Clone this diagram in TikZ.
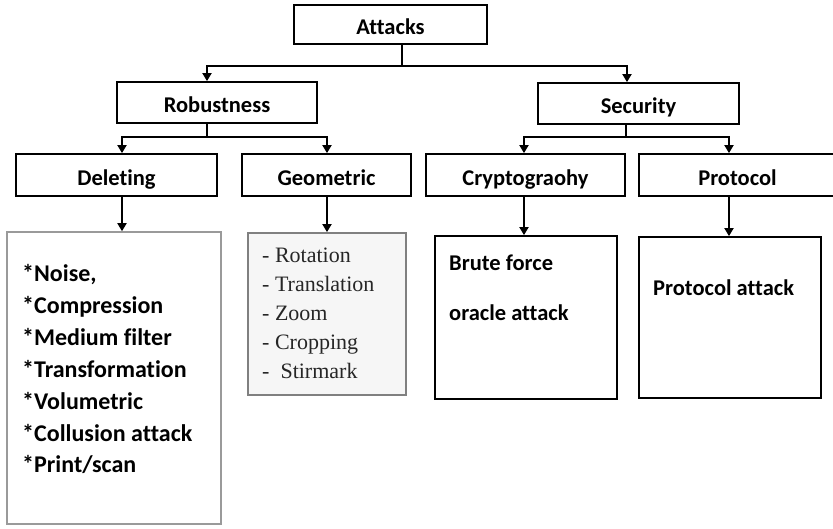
\documentclass[tikz,border=0pt]{standalone}
\usepackage{fontspec}
\setmainfont{Carlito}[RawFeature=-liga]
\newfontfamily\timesf{Liberation Serif}
\usetikzlibrary{arrows.meta}
\definecolor{boxgray}{HTML}{9A9A9A}
\definecolor{listfill}{HTML}{F6F6F6}
\definecolor{txtgray}{HTML}{262626}
\begin{document}
\begin{tikzpicture}[x=1pt,y=-1pt,
  hdr/.style={draw=black,line width=1.8pt,fill=white,inner sep=0pt,
    text height=20pt,text depth=0pt,
    font=\fontsize{22.5}{26}\selectfont\bfseries},
  conn/.style={line width=1.8pt,draw=black},
  arr/.style={conn,-{Triangle[length=8pt,width=9pt]}},
  listtxt/.style={anchor=base west,inner sep=0pt,font=\fontsize{24}{28}\selectfont\bfseries},
  boxtxt/.style={anchor=base west,inner sep=0pt,font=\fontsize{22.5}{26}\selectfont\bfseries},
  geotxt/.style={anchor=base west,inner sep=0pt,text=txtgray,font=\timesf\fontsize{22}{26}\selectfont}
]
\useasboundingbox (0,0) rectangle (833,528);
\fill[white] (0,0) rectangle (833,528);

% header boxes
\node[hdr,minimum width=193pt,minimum height=39pt] (attacks) at (390.5,24.5) {Attacks};
\node[hdr,minimum width=200pt,minimum height=41pt] (rob) at (217,102.5) {Robustness};
\node[hdr,minimum width=201pt,minimum height=41pt] (sec) at (638.5,103.5) {Security};
\node[hdr,minimum width=201pt,minimum height=42pt] (del) at (116.5,175) {Deleting};
\node[hdr,minimum width=169pt,minimum height=42pt] (geo) at (326.5,175) {Geometric};
\node[hdr,minimum width=199pt,minimum height=42pt] (cry) at (525.5,175) {Cryptograohy};
\node[hdr,minimum width=197pt,minimum height=42pt] (pro) at (737.5,175) {Protocol};

% list boxes
\node[draw=boxgray,line width=1.6pt,minimum width=214pt,minimum height=292pt,inner sep=0pt] (dlist) at (114,378) {};
\node[draw=gray,fill=listfill,line width=1.8pt,minimum width=158pt,minimum height=162pt,inner sep=0pt] (glist) at (327,314) {};
\node[draw=black,line width=1.8pt,minimum width=182pt,minimum height=163pt,inner sep=0pt] (clist) at (526,317.5) {};
\node[draw=black,line width=1.8pt,minimum width=182pt,minimum height=161pt,inner sep=0pt] (plist) at (730,317.5) {};

% connector x positions
\coordinate (ax) at (402,0);
\coordinate (rx) at (207,0);
\coordinate (sx) at (627,0);
\coordinate (rsx) at (207,0);
\coordinate (ssx) at (626,0);
\coordinate (dx) at (122,0);
\coordinate (gx) at (327,0);
\coordinate (cx) at (524,0);
\coordinate (px) at (729,0);
\coordinate (j1) at (402,66);
\coordinate (j2) at (207,137);
\coordinate (j3) at (626,137);

% connectors
\draw[conn] (attacks.south -| ax) -- (j1);
\draw[arr] (j1) -| (rob.north -| rx);
\draw[arr] (j1) -| (sec.north -| sx);
\draw[conn] (rob.south -| rsx) -- (j2);
\draw[arr] (j2) -| (del.north -| dx);
\draw[arr] (j2) -| (geo.north -| gx);
\draw[conn] (sec.south -| ssx) -- (j3);
\draw[arr] (j3) -| (cry.north -| cx);
\draw[arr] (j3) -| (pro.north -| px);
\draw[arr] (del.south -| dx) -- (dlist.north -| dx);
\draw[arr] (geo.south -| gx) -- (glist.north -| gx);
\draw[arr] (cry.south -| cx) -- (clist.north -| cx);
\draw[arr] (pro.south -| px) -- (plist.north -| px);

% deleting list
\node[listtxt] (d1) at (22,281) {*Noise,};
\node[listtxt] (d2) at (22,313) {*Compression};
\node[listtxt] (d3) at (22,345) {*Medium filter};
\node[listtxt] (d4) at (22,377) {*Transformation};
\node[listtxt] (d5) at (22,409) {*Volumetric};
\node[listtxt] (d6) at (22,441) {*Collusion attack};
\node[listtxt] (d7) at (22,472) {*Print/scan};

% geometric list
\node[geotxt] (g1) at (262,262) {- Rotation};
\node[geotxt] (g2) at (262,291) {- Translation};
\node[geotxt] (g3) at (262,320) {- Zoom};
\node[geotxt] (g4) at (262,349) {- Cropping};
\node[geotxt] (g5) at (262,378) {-\ \ Stirmark};

% crypto / protocol
\node[boxtxt] (c1) at (449,270) {Brute force};
\node[boxtxt] (c2) at (449,320) {oracle attack};
\node[boxtxt] (p1) at (653,295) {Protocol attack};
\end{tikzpicture}
\end{document}
